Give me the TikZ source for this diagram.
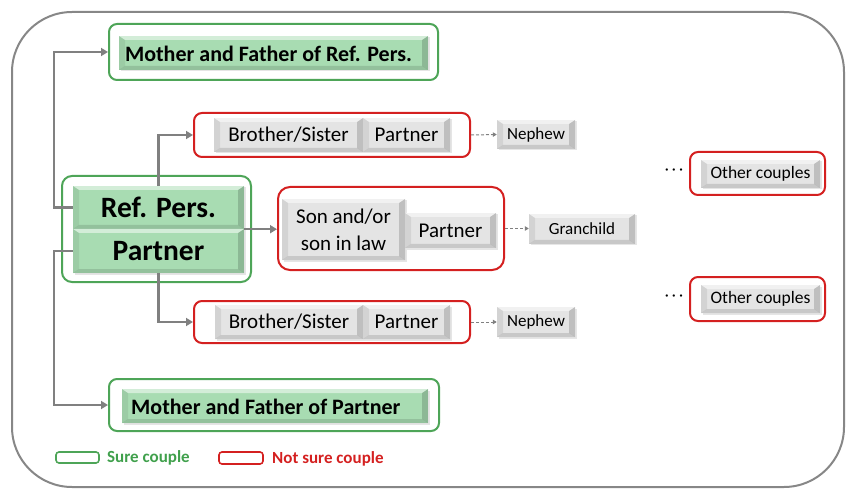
\documentclass[tikz,border=0pt]{standalone}
\usepackage{fontspec}
\setmainfont{Carlito}
\usetikzlibrary{arrows.meta,shadows}
\definecolor{gstroke}{RGB}{78,165,88}
\definecolor{rstroke}{RGB}{212,32,32}
\definecolor{gfill}{RGB}{168,220,178}
\definecolor{cellgray}{RGB}{228,228,228}
\definecolor{linegray}{RGB}{128,128,128}
\definecolor{framegray}{RGB}{135,135,135}
\definecolor{legreen}{RGB}{64,160,76}
\definecolor{lered}{RGB}{212,32,32}
\begin{document}
\begin{tikzpicture}[x=1pt,y=-1pt,
  bev/.style={path picture={
    \fill[white,opacity=.5] (path picture bounding box.north west) -- (path picture bounding box.north east) -- ([shift={(-6pt,-4pt)}]path picture bounding box.north east) -- ([shift={(6pt,-4pt)}]path picture bounding box.north west) -- cycle;
    \fill[black,opacity=.07] (path picture bounding box.north west) -- ([shift={(6pt,-4pt)}]path picture bounding box.north west) -- ([shift={(6pt,4pt)}]path picture bounding box.south west) -- (path picture bounding box.south west) -- cycle;
    \fill[black,opacity=.16] (path picture bounding box.north east) -- ([shift={(-6pt,-4pt)}]path picture bounding box.north east) -- ([shift={(-6pt,4pt)}]path picture bounding box.south east) -- (path picture bounding box.south east) -- cycle;
    \fill[black,opacity=.12] (path picture bounding box.south west) -- ([shift={(6pt,4pt)}]path picture bounding box.south west) -- ([shift={(-6pt,4pt)}]path picture bounding box.south east) -- (path picture bounding box.south east) -- cycle;
  }},
  cell/.style={inner sep=0pt, bev, drop shadow={opacity=.2, shadow xshift=1.5pt, shadow yshift=-1.5pt}},
  greencell/.style={cell, fill=gfill},
  graycell/.style={cell, fill=cellgray},
  greenframe/.style={draw=gstroke, line width=2pt, rounded corners=8pt, fill=white, inner sep=0pt},
  redframe/.style={draw=rstroke, line width=2pt, rounded corners=8pt, fill=white, inner sep=0pt},
  conn/.style={draw=linegray, line width=2.6pt, -{Triangle[length=7pt,width=8pt]}},
  dconn/.style={draw=linegray, line width=1pt, dashed, dash pattern=on 3pt off 2pt, -{Triangle[length=4pt,width=4.5pt]}},
  bigb/.style={font=\fontsize{29.5}{33}\bfseries\selectfont},
  midb/.style={font=\fontsize{22}{25}\bfseries\selectfont},
  midr/.style={font=\fontsize{21}{25}\selectfont},
  smallr/.style={font=\fontsize{17}{19}\selectfont},
  legb/.style={font=\fontsize{17}{20}\bfseries\selectfont}
]
\useasboundingbox (0,0) rectangle (846,489);
% outer frame
\node[draw=framegray, line width=2pt, rounded corners=60pt, minimum width=832pt, minimum height=475pt, inner sep=0pt] (frame) at (428,249.5) {};

% Mother and Father of Ref. Pers.
\node[greenframe, minimum width=329pt, minimum height=56pt] (mfr) at (273.5,52) {};
\node[greencell, minimum width=309pt, minimum height=34pt, midb] (mfrc) at (273.5,53) {};
\node[midb, inner sep=0pt] (mfrt) at (268.5,54) {Mother and Father of Ref. Pers.};

% Ref. Pers. / Partner
\node[greenframe, minimum width=189pt, minimum height=106pt, rounded corners=10pt] (rpg) at (156.5,229) {};
\node[greencell, minimum width=171pt, minimum height=43pt, bigb] (rp) at (158.5,207.5) {Ref. Pers.};
\node[greencell, minimum width=171pt, minimum height=44pt, bigb] (pp) at (158.5,251) {Partner};

% Brother/Sister top
\node[redframe, minimum width=276pt, minimum height=44pt] (bs1) at (332,135) {};
\node[graycell, minimum width=149pt, minimum height=34pt, midr] (bs1a) at (288.5,135) {Brother/Sister};
\node[graycell, minimum width=87pt, minimum height=34pt, midr] (bs1b) at (406.5,135) {Partner};

% Son
\node[redframe, minimum width=226pt, minimum height=83pt, rounded corners=12pt] (son) at (391,228.5) {};
\node[graycell, minimum width=123pt, minimum height=61pt, align=center, font=\fontsize{21}{27}\selectfont] (sona) at (343.5,229.5) {Son and/or\\son in law};
\node[graycell, minimum width=91pt, minimum height=35pt, midr] (sonb) at (450.5,230.5) {Partner};

% Brother/Sister bottom
\node[redframe, minimum width=276pt, minimum height=42pt] (bs2) at (332,322) {};
\node[graycell, minimum width=148pt, minimum height=34pt, midr] (bs2a) at (289,322) {Brother/Sister};
\node[graycell, minimum width=87pt, minimum height=34pt, midr] (bs2b) at (406.5,322) {Partner};

% Mother and Father of Partner
\node[greenframe, minimum width=330pt, minimum height=52pt] (mfp) at (274,405) {};
\node[greencell, minimum width=306pt, minimum height=34pt] (mfpc) at (275,406) {};
\node[midb, anchor=west, inner sep=0pt] (mfpt) at (131,406.5) {Mother and Father of Partner};

% small boxes
\node[graycell, minimum width=78pt, minimum height=29pt, smallr] (nep1) at (536,134.5) {Nephew};
\node[graycell, minimum width=106pt, minimum height=30pt, smallr] (gran) at (582,229) {Granchild};
\node[graycell, minimum width=78pt, minimum height=30pt, smallr] (nep2) at (536,322) {Nephew};

% Other couples
\node[redframe, minimum width=135pt, minimum height=43pt] (oc1) at (757.5,173.5) {};
\node[graycell, minimum width=119pt, minimum height=28pt, font=\fontsize{17.5}{20}\selectfont] (oc1c) at (760.5,174) {Other couples};
\node[redframe, minimum width=135pt, minimum height=44pt] (oc2) at (757.5,299) {};
\node[graycell, minimum width=119pt, minimum height=28pt, font=\fontsize{17.5}{20}\selectfont] (oc2c) at (760.5,299) {Other couples};
\node[font=\fontsize{16}{19}\selectfont, inner sep=0pt] (dots1) at (674,172) {·\hspace{3pt}·\hspace{3pt}·};
\node[font=\fontsize{16}{19}\selectfont, inner sep=0pt] (dots2) at (674,298) {·\hspace{3pt}·\hspace{3pt}·};

% connectors
\draw[conn] (rp.west) -- ++(-19,0) |- (mfr.west);
\draw[conn] (pp.west) -- ++(-19,0) |- (mfp.west);
\draw[conn] (rp.north) |- (bs1.west);
\draw[conn] (pp.south) |- (bs2.west);
\draw[conn] (rp.south east) -- (rp.south east -| son.west);
\draw[dconn] (bs1.east) -- (nep1.west);
\draw[dconn] (son.east) -- (son.east -| gran.west);
\draw[dconn] (bs2.east) -- (nep2.west);

% legend
\node[draw=gstroke, line width=1.6pt, rounded corners=3pt, minimum width=43pt, minimum height=11pt, inner sep=0pt] (lg) at (77.5,457.5) {};
\node[legb, text=legreen, anchor=west, inner sep=0pt] (lgt) at (107,457.5) {Sure couple};
\node[draw=rstroke, line width=1.6pt, rounded corners=3pt, minimum width=44pt, minimum height=12pt, inner sep=0pt] (lr) at (241,458) {};
\node[legb, text=lered, anchor=west, inner sep=0pt] (lrt) at (272,458.5) {Not sure couple};
\end{tikzpicture}
\end{document}
